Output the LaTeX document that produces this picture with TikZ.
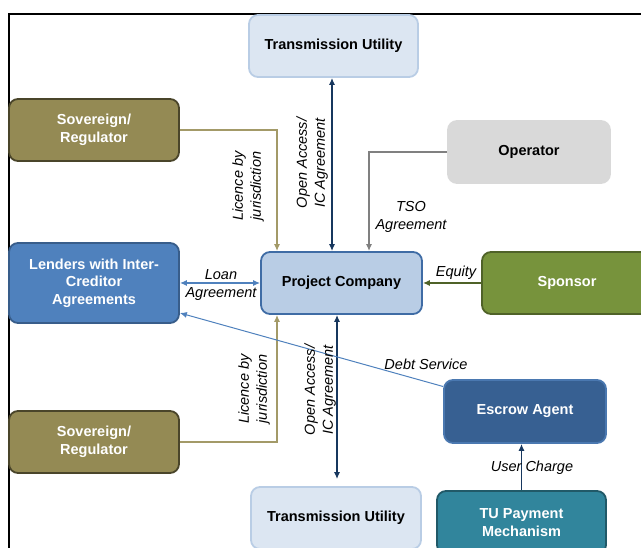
\documentclass[tikz,border=0pt]{standalone}
\usepackage{fontspec}
\setmainfont{Liberation Sans}
\usepackage{xcolor}
\usetikzlibrary{arrows.meta,positioning}

\definecolor{tuFill}{HTML}{DCE6F2}
\definecolor{tuLine}{HTML}{B9CDE5}
\definecolor{sovFill}{HTML}{948A54}
\definecolor{sovLine}{HTML}{4A452A}
\definecolor{opFill}{HTML}{D9D9D9}
\definecolor{lenFill}{HTML}{4F81BD}
\definecolor{lenLine}{HTML}{385D8A}
\definecolor{pcFill}{HTML}{B9CDE5}
\definecolor{pcLine}{HTML}{3F6CA5}
\definecolor{spFill}{HTML}{77933C}
\definecolor{spLine}{HTML}{4F6228}
\definecolor{esFill}{HTML}{376092}
\definecolor{esLine}{HTML}{4A78B0}
\definecolor{payFill}{HTML}{31859C}
\definecolor{payLine}{HTML}{215968}
\definecolor{navy}{HTML}{17375E}
\definecolor{licLine}{HTML}{A39A68}

\begin{document}
\begin{tikzpicture}[x=1pt,y=-1pt,>={Latex[length=7pt,width=6pt]},
  box/.style={draw, rounded corners=9pt, line width=1.8pt, align=center,
    font=\fontsize{14.5}{17.5}\selectfont\bfseries, minimum height=62pt, inner sep=2pt},
  lbl/.style={align=center, font=\fontsize{14.5}{18}\selectfont\itshape, inner sep=1pt},
  link/.style={line width=1.3pt}]

\useasboundingbox (0,0) rectangle (641,548);
\clip (0,0) rectangle (641,548);

% frame
\draw[line width=1.6pt] (641,14) -- (9,14) -- (9,548);

% parties
\node[box, fill=tuFill, draw=tuLine, minimum width=169pt] (tuTop) at (333.5,46) {Transmission Utility};
\node[box, fill=sovFill, draw=sovLine, text=white, minimum width=170pt] (sovTop) at (94,130) {Sovereign/\\Regulator};
\node[box, fill=opFill, draw=opFill, minimum width=162pt] (operator) at (529,152) {Operator};
\node[box, fill=lenFill, draw=lenLine, text=white, minimum width=170pt, minimum height=80pt] (lenders) at (94,283) {Lenders with Inter-\\Creditor\\Agreements};
\node[box, fill=pcFill, draw=pcLine, minimum width=161pt] (pc) at (341.5,283) {Project Company};
\node[box, fill=spFill, draw=spLine, text=white, minimum width=170pt] (sponsor) at (567,283) {Sponsor};
\node[box, fill=sovFill, draw=sovLine, text=white, minimum width=170pt] (sovBot) at (94,442) {Sovereign/\\Regulator};
\node[box, fill=esFill, draw=esLine, text=white, minimum width=162pt, minimum height=63pt] (escrow) at (525,411.5) {Escrow Agent};
\node[box, fill=tuFill, draw=tuLine, minimum width=170pt] (tuBot) at (336,518) {Transmission Utility};
\node[box, fill=payFill, draw=payLine, text=white, minimum width=169pt, minimum height=63pt] (tuPay) at (521.5,522.5) {TU Payment\\Mechanism};

% agreements
\draw[link, navy, <->] ([xshift=-9.5pt]pc.north) -- ([xshift=-9.5pt]pc.north |- tuTop.south);
\draw[link, licLine, ->] (sovTop.east) -| ([xshift=-64.5pt]pc.north);
\draw[link, gray, ->] (operator.west) -| ([xshift=27.5pt]pc.north);
\draw[link, lenFill, <->] (lenders.east) -- (pc.west);
\draw[link, spLine, ->] (sponsor.west) -- (pc.east);
\draw[link, licLine, ->] (sovBot.east) -| ([xshift=-64.5pt]pc.south);
\draw[link, navy, <->] ([xshift=-4.5pt]pc.south) -- ([xshift=-4.5pt,yshift=7pt]pc.south |- tuBot.north);
\draw[line width=1pt, lenFill, ->] ([yshift=25pt]escrow.west) -- ([yshift=-30pt]lenders.east);
\draw[link, navy, ->] (tuPay.north) -- (tuPay.north |- escrow.south);

% labels
\node[lbl, rotate=90] (oaTopLbl) at (312,163) {Open Access/\\IC Agreement};
\node[lbl, rotate=90] (licTopLbl) at (248,186) {Licence by\\jurisdiction};
\node[lbl] (tsoLbl) at (411,217) {TSO\\Agreement};
\node[lbl] (loanLbl) at (221,285) {Loan\\Agreement};
\node[lbl] (equityLbl) at (456,273) {Equity};
\node[lbl] (debtLbl) at (426,364) {Debt Service};
\node[lbl, rotate=90] (licBotLbl) at (254,389) {Licence by\\jurisdiction};
\node[lbl, rotate=90] (oaBotLbl) at (320,390) {Open Access/\\IC Agreement};
\node[lbl] (userLbl) at (532,468) {User Charge};
\end{tikzpicture}
\end{document}
